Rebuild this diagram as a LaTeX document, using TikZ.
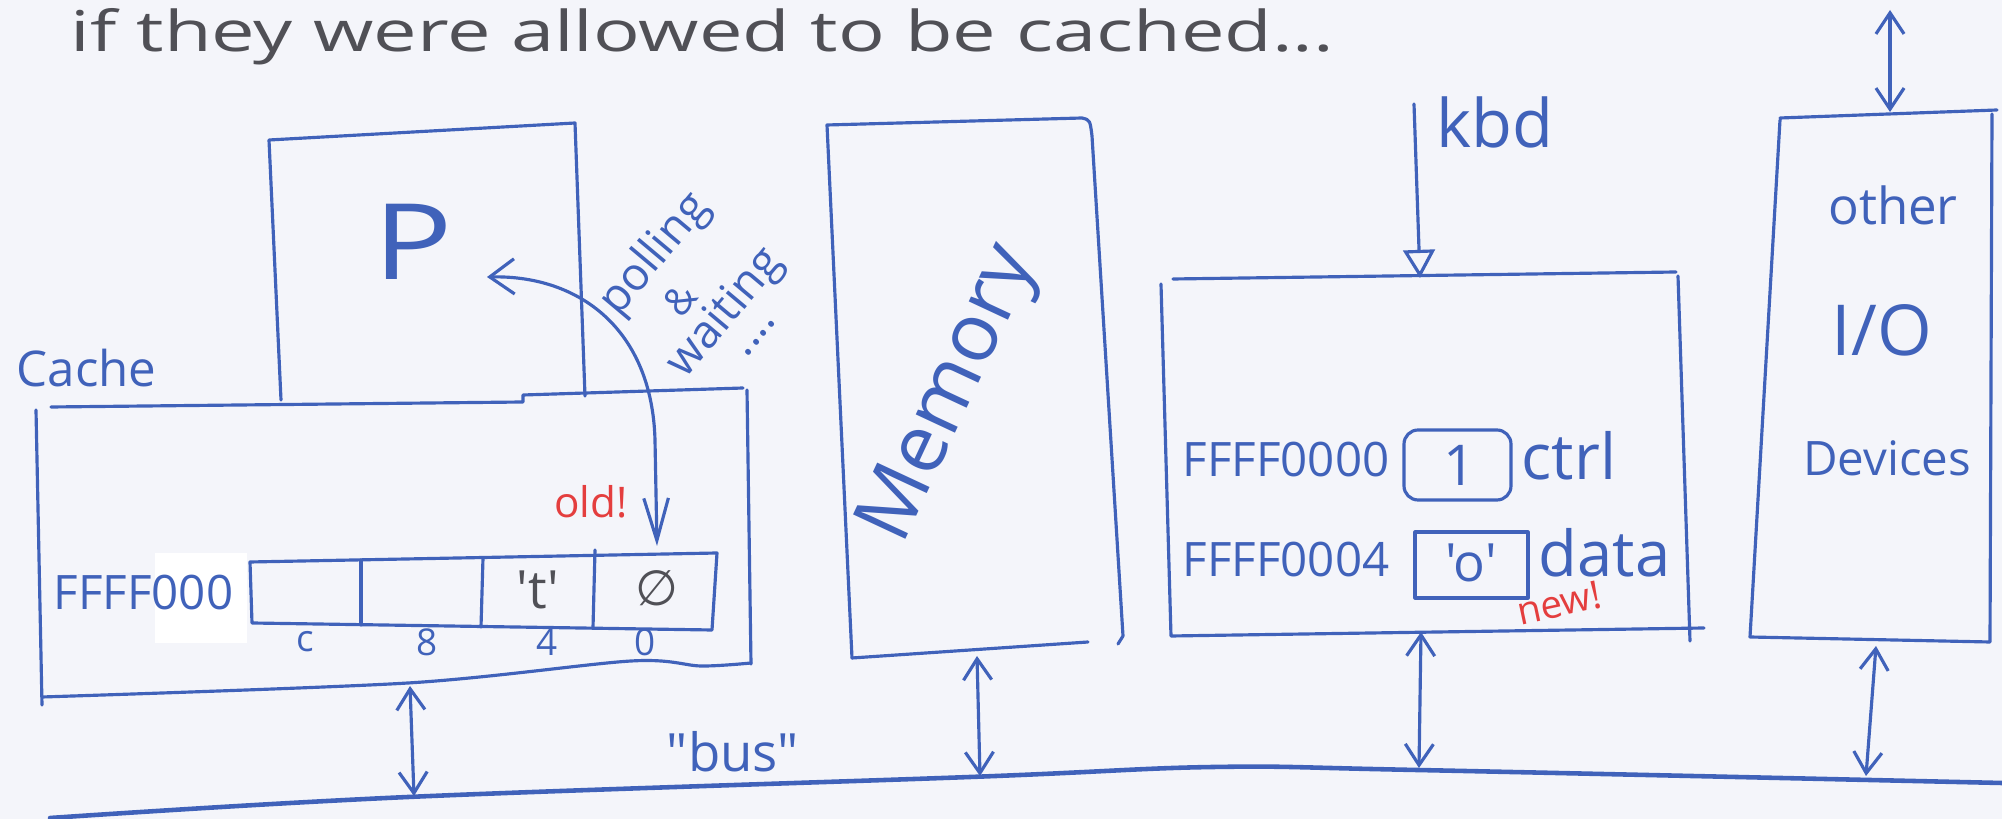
\documentclass[tikz,border=0pt]{standalone}
\usepackage{fontspec}
\setmainfont{Open Sans}
\newfontfamily\qfont{Open Sans}
\newfontfamily\symfont{DejaVu Sans}
\usetikzlibrary{arrows.meta}
\definecolor{ink}{RGB}{64,98,186}
\definecolor{pencil}{RGB}{80,80,86}
\definecolor{redink}{RGB}{228,62,62}
\definecolor{paper}{RGB}{244,245,250}
\newcommand\fsz[1]{\fontsize{#1}{#1}\selectfont}
\tikzset{
  pen/.style={draw=ink, line width=0.9pt, line cap=round, line join=round},
  busline/.style={draw=ink, line width=1.3pt, line cap=round},
  txt/.style={text=ink, inner sep=0pt},
  greytxt/.style={text=pencil, inner sep=0pt},
  redtxt/.style={text=redink, inner sep=0pt},
  barbs/.style={pen, {Straight Barb[length=6pt,width=8pt]}-{Straight Barb[length=6pt,width=8pt]}},
  pollarrow/.style={pen, {Straight Barb[length=7pt,width=10pt]}-{Straight Barb[length=12pt,width=7pt]}},
  feed/.style={pen, -{Triangle[open,length=8pt,width=9pt]}}
}
\begin{document}
\begin{tikzpicture}[x=0.01cm,y=-0.01cm]
\useasboundingbox (0,0) rectangle (2002,819);
\fill[paper] (0,0) rectangle (2002,819);

% heading
\node[greytxt, anchor=base west] (title) at (70,52)
  {\scalebox{1.38}[1]{\fsz{16}if they were allowed to be cached...}};

% processor
\draw[pen] (281,400) -- (269,140) -- (575,123) -- (585,396);
\node[txt] (P) at (413,242) {\scalebox{1.25}[1]{\fsz{30}P}};

% cache block
\node[txt, anchor=base west] (cachelbl) at (16,387) {\fsz{14}Cache};
\draw[pen] (51,407) -- (523,402) -- (523,395) -- (743,388);
\draw[pen] (36,410) -- (42,705);
\draw[pen] (747,390) -- (751,664);
\draw[pen] plot[smooth, tension=0.5] coordinates {(42,697) (408,683) (631,661) (701,666) (751,663)};

% cached line of the device registers
\fill[white] (155,553) rectangle (247,643);
\node[txt, anchor=base west] (addrc) at (53,610) {\fsz{13.5}FFFF000};
\draw[pen] (250,562) -- (717,553) -- (712,630) -- (252,623) -- cycle;
\draw[pen] (361,560) -- (361,625);
\draw[pen] (483,558) -- (481,627);
\draw[pen] (595,550) -- (593,628);
\node[greytxt] (tchar) at (538,590) {\qfont\fsz{15}'t'};
\node[greytxt] (zero) at (657,588) {\symfont\fsz{14}∅};
\node[txt] (offc) at (305,642) {\fsz{10.5}c};
\node[txt] (off8) at (427,642) {\fsz{10.5}8};
\node[txt] (off4) at (547,642) {\fsz{10.5}4};
\node[txt] (off0) at (645,642) {\fsz{10.5}0};
\node[redtxt] (old) at (591,502) {\fsz{12}old!};

% polling loop between processor and cached copy
\coordinate (pollP) at (487,277);
\coordinate (pollC) at (657,546);
\draw[pollarrow] (pollP) .. controls (580,275) and (652,330) .. (655,440) -- (pollC);
\node[txt, rotate=50] (polling) at (655,255) {\fsz{13}polling};
\node[txt, rotate=50] (amp) at (680,300) {\fsz{11}\&};
\node[txt, rotate=50] (waiting) at (726,314) {\fsz{13}waiting};
\node[txt, rotate=50] (dots) at (760,338) {\fsz{13}....};

% memory
\draw[pen] (852,658) -- (827,125) -- (1082,118) .. controls (1090,120) .. (1092,136) -- (1123,636) -- (1118,644);
\draw[pen] (852,658) -- (1088,642);
\node[txt, rotate=65] (mem) at (952,395) {\fsz{23}Memory};

% keyboard controller
\draw[pen] (1173,279) -- (1676,272) (1678,276) -- (1690,641) (1161,284) -- (1171,636) -- (1704,628);
\node[txt, anchor=base west] (kbd) at (1436,148) {\fsz{19}kbd};
\coordinate (kbdIn) at (1414,104);
\coordinate (kbdTop) at (1420,278);
\draw[feed] (kbdIn) -- (kbdTop);
\node[txt, anchor=base west] (addr0) at (1182,477) {\fsz{13.5}FFFF0000};
\draw[pen, rounded corners=4pt] (1404,430) rectangle (1511,500);
\node[txt] (one) at (1460,465) {\fsz{16}1};
\node[txt, anchor=base west] (ctrl) at (1521,480) {\fsz{18}ctrl};
\node[txt, anchor=base west] (addr4) at (1182,577) {\fsz{13.5}FFFF0004};
\draw[pen] (1415,532) rectangle (1528,598);
\node[txt] (ochar) at (1471,563) {\qfont\fsz{15}'o'};
\node[txt, anchor=base west] (data) at (1538,577) {\fsz{18}data};
\node[redtxt, rotate=12] (new) at (1559,603) {\fsz{11}new!};

% other devices
\draw[pen] (1780,118) -- (1997,110) (1992,114) -- (1990,642) (1780,120) -- (1750,637) -- (1990,642);
\node[txt] (other) at (1893,205) {\fsz{14.5}other};
\node[txt] (io) at (1882,330) {\fsz{20}I/O};
\node[txt] (dev) at (1887,458) {\fsz{13.5}Devices};
\coordinate (extTop) at (1890,10);
\coordinate (otherTop) at (1890,112);
\draw[barbs] (extTop) -- (otherTop);

% bus
\draw[busline] plot[smooth, tension=0.6] coordinates {(50,818) (408,797) (970,777) (1213,767) (1417,770) (2002,783)};
\node[txt] (bus) at (733,752) {\qfont\fsz{15}"bus"};

\coordinate (cacheB) at (410,686);
\coordinate (busC) at (414,796);
\coordinate (memB) at (977,656);
\coordinate (busM) at (980,776);
\coordinate (kbdB) at (1421,632);
\coordinate (busK) at (1419,768);
\coordinate (otherB) at (1876,646);
\coordinate (busO) at (1866,776);
\draw[barbs] (cacheB) -- (busC);
\draw[barbs] (memB) -- (busM);
\draw[barbs] (kbdB) -- (busK);
\draw[barbs] (otherB) -- (busO);
\end{tikzpicture}
\end{document}
